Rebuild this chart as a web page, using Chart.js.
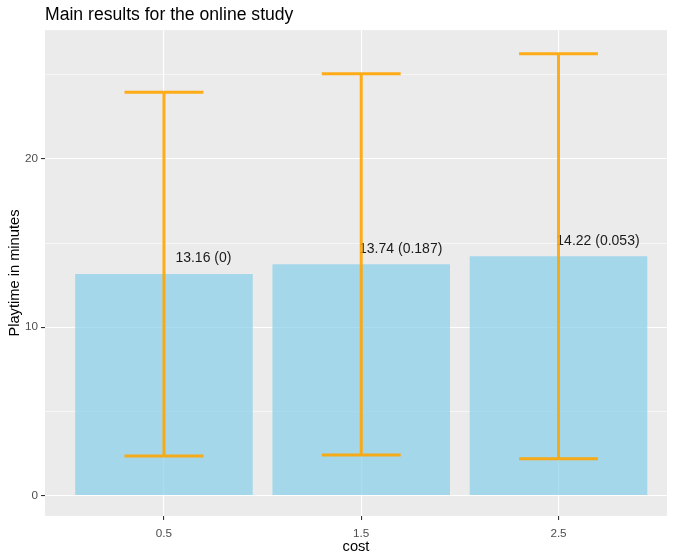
<!DOCTYPE html>
<html>
<head>
<meta charset="utf-8">
<script src="https://cdn.jsdelivr.net/npm/chart.js@4.4.1/dist/chart.umd.min.js"></script>
<style>
  html, body { margin: 0; padding: 0; background: #ffffff; }
  #wrap { width: 674px; height: 554px; }
</style>
</head>
<body>
<div id="wrap"><canvas id="c" width="674" height="554"></canvas></div>
<script>
// ---- data ----
const costs = [0.5, 1.5, 2.5];
const means = [13.16, 13.74, 14.22];
const sds = [10.81, 11.33, 12.04];
const pvals = ['0', '0.187', '0.053'];
const xTicks = [0.5, 1.5, 2.5];
const yTicks = [0, 5, 10, 15, 20, 25];
const yLabelTicks = [0, 10, 20];

const lower = means.map((m, i) => m - sds[i]);
const upper = means.map((m, i) => m + sds[i]);
const pointLabels = means.map((m, i) => m.toFixed(2) + ' (' + pvals[i] + ')');

const FONT = "'Liberation Sans', Arial, sans-serif";

const panelBg = {
  id: 'panelBg',
  beforeDraw(chart) {
    const { ctx, chartArea: a } = chart;
    ctx.save();
    ctx.fillStyle = '#EBEBEB';
    ctx.fillRect(a.left, a.top, a.right - a.left, a.bottom - a.top);
    ctx.restore();
  }
};

const overlay = {
  id: 'overlay',
  afterDatasetsDraw(chart) {
    const { ctx, scales: { x, y } } = chart;
    ctx.save();
    // text labels
    ctx.fillStyle = '#1a1a1a';
    ctx.font = '14px ' + FONT;
    ctx.textAlign = 'center';
    ctx.textBaseline = 'middle';
    costs.forEach((c, i) => {
      const px = x.getPixelForValue(c + 0.2);
      const py = y.getPixelForValue(means[i]) - 15.5;
      ctx.fillText(pointLabels[i], px, py);
    });
    // error bars
    ctx.strokeStyle = 'rgba(255,165,0,0.9)';
    ctx.lineWidth = 3;
    ctx.lineCap = 'butt';
    costs.forEach((c, i) => {
      const cx = x.getPixelForValue(c);
      const x0 = x.getPixelForValue(c - 0.2);
      const x1 = x.getPixelForValue(c + 0.2);
      const yl = y.getPixelForValue(lower[i]);
      const yu = y.getPixelForValue(upper[i]);
      ctx.beginPath();
      ctx.moveTo(cx, yl); ctx.lineTo(cx, yu);
      ctx.moveTo(x0, yu); ctx.lineTo(x1, yu);
      ctx.moveTo(x0, yl); ctx.lineTo(x1, yl);
      ctx.stroke();
    });
    ctx.restore();
  }
};

new Chart(document.getElementById('c'), {
  type: 'bar',
  data: {
    datasets: [{
      data: costs.map((c, i) => ({ x: c, y: means[i] })),
      backgroundColor: 'rgba(135,206,235,0.7)',
      borderWidth: 0,
      categoryPercentage: 1,
      barPercentage: 0.9
    }]
  },
  options: {
    responsive: false,
    animation: false,
    devicePixelRatio: 1,
    layout: { padding: { left: 0, right: 7, top: 0, bottom: 0 } },
    plugins: {
      legend: { display: false },
      tooltip: { enabled: false },
      title: {
        display: true,
        text: 'Main results for the online study',
        align: 'start',
        fullSize: false,
        color: '#000000',
        font: { family: FONT, size: 17.6, weight: 'normal', lineHeight: 1.2 },
        padding: { top: 5, bottom: 4 }
      }
    },
    scales: {
      x: {
        type: 'linear',
        min: -0.103,
        max: 3.05,
        offset: false,
        afterBuildTicks(s) { s.ticks = xTicks.map(v => ({ value: v })); },
        afterFit(s) { s.height = 38; },
        ticks: {
          color: '#4D4D4D',
          font: { family: FONT, size: 11.7 },
          padding: 7,
          maxRotation: 0,
          autoSkip: false,
          callback: v => String(v)
        },
        grid: {
          offset: false,
          color: '#FFFFFF',
          lineWidth: 1.1,
          drawTicks: true,
          tickLength: 4,
          tickColor: '#333333',
          tickWidth: 1.1
        },
        border: { display: false },
        title: {
          display: true,
          text: 'cost',
          color: '#000000',
          font: { family: FONT, size: 14.67, lineHeight: 1 },
          padding: { top: 2, bottom: 0 }
        }
      },
      y: {
        type: 'linear',
        min: -1.22,
        max: 27.66,
        afterBuildTicks(s) { s.ticks = yTicks.map(v => ({ value: v })); },
        afterFit(s) { s.width = 45; },
        ticks: {
          color: '#4D4D4D',
          font: { family: FONT, size: 11.7 },
          padding: 3,
          autoSkip: false,
          callback: v => (yLabelTicks.includes(v) ? String(v) : '')
        },
        grid: {
          color: '#FFFFFF',
          lineWidth: ctx => (yLabelTicks.includes(ctx.tick && ctx.tick.value) ? 1.1 : 0.55),
          drawTicks: true,
          tickLength: 4,
          tickColor: ctx => (yLabelTicks.includes(ctx.tick && ctx.tick.value) ? '#333333' : 'rgba(0,0,0,0)'),
          tickWidth: 1.1
        },
        border: { display: false },
        title: {
          display: true,
          text: 'Playtime in minutes',
          color: '#000000',
          font: { family: FONT, size: 14.67, lineHeight: 1 },
          padding: { top: 8, bottom: 4 }
        }
      }
    }
  },
  plugins: [panelBg, overlay]
});
</script>
</body>
</html>
